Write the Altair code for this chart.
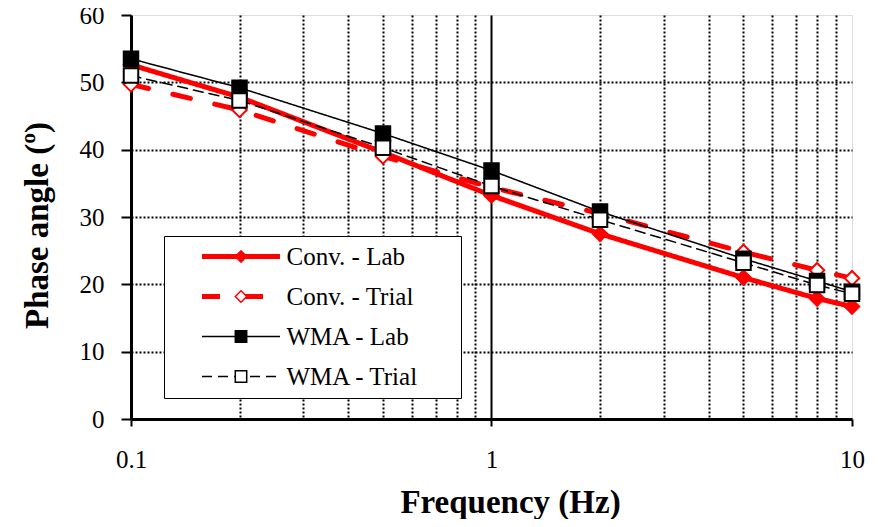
import altair as alt
import pandas as pd

# ---- data ----
freq = [0.1, 0.2, 0.5, 1, 2, 5, 8, 10]
conv_lab = [52.6, 47.8, 39.6, 33.2, 27.5, 21.0, 17.9, 16.7]
conv_trial = [49.7, 45.9, 39.0, 34.4, 30.5, 24.8, 22.1, 20.9]
wma_lab = [53.5, 49.2, 42.4, 36.9, 30.8, 23.8, 20.5, 18.9]
wma_trial = [51.0, 47.3, 40.3, 34.6, 29.6, 23.2, 19.9, 18.6]
series_names = ["Conv. - Lab", "Conv. - Trial", "WMA - Lab", "WMA - Trial"]
x_grid_values = [0.1, 0.2, 0.3, 0.4, 0.5, 0.6, 0.7, 0.8, 0.9,
                 1, 2, 3, 4, 5, 6, 7, 8, 9, 10]
x_tick_labels = ["0.1", "1", "10"]
y_tick_values = [0, 10, 20, 30, 40, 50, 60]

# marker keys differ from line keys so the two legends stay separate
marker_names = [n + " " for n in series_names]

rows = []
for name, mname, vals in zip(series_names, marker_names,
                             [conv_lab, conv_trial, wma_lab, wma_trial]):
    for f, v in zip(freq, vals):
        rows.append({"freq": f, "phase": v, "series": name, "marker": mname})
df = pd.DataFrame(rows)

FONT = "Liberation Serif"

x_enc = alt.X(
    "freq:Q",
    scale=alt.Scale(type="log", domain=[0.1, 10], nice=False),
    axis=alt.Axis(
        title="Frequency (Hz)",
        titleFont=FONT, titleFontSize=33, titleFontWeight="bold", titleColor="black",
        titleX=379, titleY=93, titleBaseline="alphabetic", titleAlign="center",
        values=x_grid_values,
        labelExpr="datum.value == 0.1 ? '%s' : datum.value == 1 ? '%s' : datum.value == 10 ? '%s' : ''" % tuple(x_tick_labels),
        labelFont=FONT, labelFontSize=25, labelColor="black", labelPadding=21,
        labelOverlap=False, labelFlush=False,
        domainColor="black", domainWidth=3,
        tickSize=7, tickWidth=2,
        tickColor={"condition": {"test": "datum.value == 0.1 || datum.value == 1 || datum.value == 10", "value": "black"}, "value": "transparent"},
        grid=True,
        gridColor={"condition": {"test": "datum.value == 10 || datum.value == 0.1", "value": "transparent"}, "value": "black"},
        gridDash={"condition": {"test": "datum.value == 1", "value": []}, "value": [2, 2]},
        gridWidth=2,
    ),
)
y_enc = alt.Y(
    "phase:Q",
    scale=alt.Scale(domain=[0, 60], nice=False),
    axis=alt.Axis(
        title="Phase angle (º)",
        titleFont=FONT, titleFontSize=33, titleFontWeight="bold", titleColor="black",
        titleX=-94, titleY=210, titleAngle=270, titleBaseline="middle", titleAlign="center",
        values=y_tick_values,
        labelFont=FONT, labelFontSize=25, labelColor="black", labelPadding=17,
        domainColor="black", domainWidth=3,
        tickColor="black", tickSize=10, tickWidth=2,
        grid=True,
        gridColor={"condition": {"test": "datum.value == 60 || datum.value == 0", "value": "transparent"}, "value": "black"},
        gridDash=[2, 2], gridWidth=2,
    ),
)

line_legend = alt.Legend(
    title="\u2002", titleOrient="right", titlePadding=34, titleFontSize=10,
    orient="none", legendX=33, legendY=221, padding=8,
    fillColor="white", strokeColor="black",
    labelFont=FONT, labelFontSize=25, labelColor="black",
    symbolType="stroke", symbolSize=6084, symbolOffset=27.5, labelOffset=4,
    clipHeight=25, rowPadding=14, zindex=1,
)
marker_legend = alt.Legend(
    title=None, orient="none", legendX=33, legendY=221, padding=8,
    labelFont=FONT, labelFontSize=25, labelExpr="''",
    symbolSize=130, symbolStrokeWidth=1.5, symbolOffset=56.5,
    clipHeight=25, rowPadding=14, zindex=2,
)

lines = alt.Chart(df).mark_line(clip=True, strokeCap="round").encode(
    x=x_enc, y=y_enc,
    color=alt.Color("series:N", sort=None,
                    scale=alt.Scale(domain=series_names, range=["#ff0000", "#ff0000", "black", "black"]),
                    legend=line_legend),
    strokeDash=alt.StrokeDash("series:N", sort=None,
                              scale=alt.Scale(domain=series_names, range=[[1, 0], [18, 25], [1, 0], [10, 6]]),
                              legend=line_legend),
    strokeWidth=alt.StrokeWidth("series:N", sort=None,
                                scale=alt.Scale(type="ordinal", domain=series_names, range=[5, 5, 1.5, 1.5]),
                                legend=line_legend),
)

points = alt.Chart(df).mark_point(size=210, strokeWidth=2, opacity=1, filled=True).encode(
    x="freq:Q", y="phase:Q",
    shape=alt.Shape("marker:N", sort=None,
                    scale=alt.Scale(domain=marker_names, range=["diamond", "diamond", "square", "square"]),
                    legend=marker_legend),
    fill=alt.Fill("marker:N", sort=None,
                  scale=alt.Scale(domain=marker_names, range=["#ff0000", "white", "black", "white"]),
                  legend=marker_legend),
    stroke=alt.Stroke("marker:N", sort=None,
                      scale=alt.Scale(domain=marker_names, range=["#ff0000", "#ff0000", "black", "black"]),
                      legend=marker_legend),
)

chart = alt.layer(lines, points).properties(
    width=721, height=404,
    autosize=alt.AutoSizeParams(type="none"),
    padding={"left": 123, "top": 7, "right": 18, "bottom": 100},
).configure_view(
    stroke="#a0a0a0", strokeWidth=2,
).configure_legend(
    strokeWidth=2,
).configure(background="white")

chart.save("out.html", embed_options={"renderer": "svg", "actions": False})
